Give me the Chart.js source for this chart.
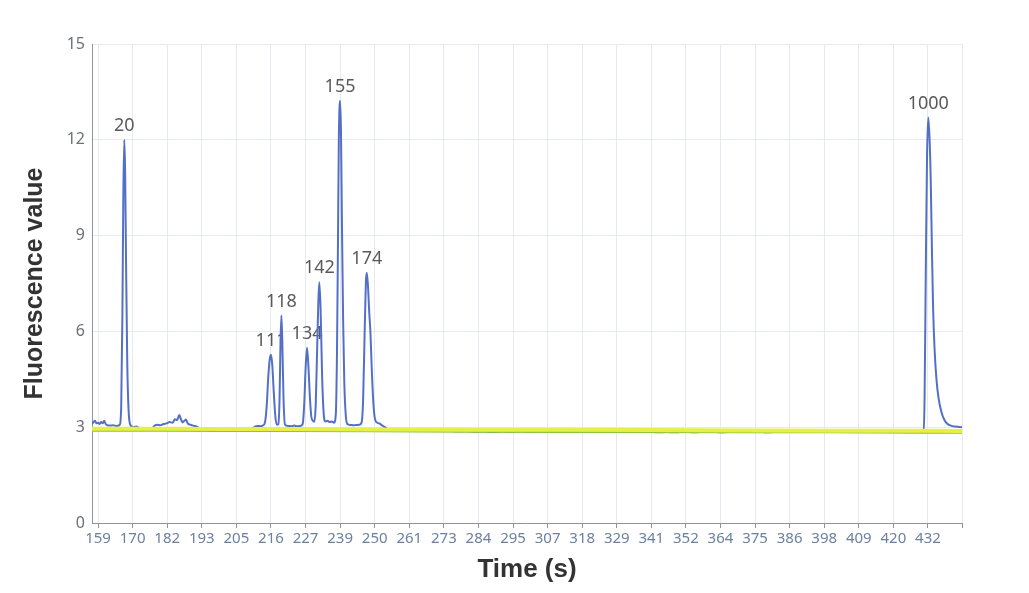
<!DOCTYPE html>
<html>
<head>
<meta charset="utf-8">
<script src="https://cdn.jsdelivr.net/npm/chart.js@4/dist/chart.umd.min.js"></script>
<style>
  html, body { margin: 0; padding: 0; background: #ffffff; }
  canvas { display: block; }
</style>
</head>
<body>
<canvas id="c" width="1029" height="593"></canvas>
<script>
// ---- data ----
const xMin = 157;
const xMax = 443.2;
const tickLabels = [159, 170, 182, 193, 205, 216, 227, 239, 250, 261, 273, 284, 295, 307, 318, 329, 341, 352, 364, 375, 386, 398, 409, 420, 432];
const yTicks = [0, 3, 6, 9, 12, 15];

const blueTime = [
  157.0, 157.5, 158.0, 158.5, 159.0, 159.5, 160.0, 160.5, 161.0, 161.5, 162.0, 163.0, 164.0, 165.0, 166.0,
  166.6, 167.0, 167.3, 167.6, 167.9, 168.2, 168.6, 169.0, 169.5,
  170.5, 171.5, 172.5, 173.5, 174.5, 175.5, 176.5, 177.5, 178.5, 179.5, 180.5, 181.5, 182.5, 183.5,
  184.3, 185.0, 185.7, 186.3, 186.8, 187.4, 187.9, 188.5, 189.3, 190.3, 191.5, 192.5,
  194, 196, 198, 200, 202, 204, 206, 208, 209.5, 210.6, 211.5, 212.5, 213.3,
  213.9, 214.5, 215.0, 215.5, 215.9, 216.3, 216.8, 217.3, 217.8, 218.3,
  218.7, 219.0, 219.3, 219.6, 220.0, 220.5, 221.5, 222.5, 223.5, 224.5, 225.5, 226.3,
  226.8, 227.3, 227.75, 228.2, 228.7, 229.2, 229.7, 230.1,
  230.6, 231.1, 231.5, 231.8, 232.2, 232.7, 233.2, 233.8, 234.5, 235.2, 235.9, 236.6,
  237.2, 237.6, 237.9, 238.2, 238.6, 238.9, 239.2, 239.6, 240.0, 240.5, 241.0, 242.0, 243.0, 244.0, 245.0,
  245.7, 246.2, 246.7, 247.1, 247.4, 247.8, 248.2, 248.6, 249.0, 249.5, 250.0, 250.7, 251.5, 252.5, 253.4, 254.5,
  256, 259, 262, 265, 268, 271, 274, 277, 280, 283, 286, 289, 292, 295, 298, 301, 304, 307, 310, 313,
  316, 319, 322, 325, 328, 331, 334, 337, 340, 343, 346, 349, 352, 355, 358, 361, 364, 367, 370, 373,
  376, 379, 382, 385, 388, 391, 394, 397, 400, 403, 406, 409, 412, 415, 418, 421, 424, 427, 430, 430.6,
  430.9, 431.3, 431.7, 432.1, 432.5, 432.9, 433.3, 433.7, 434.2, 434.8, 435.5, 436.5, 437.3, 438.1, 439.5, 441.0, 443.2
];
const blueValue = [
  3.10, 3.16, 3.20, 3.12, 3.14, 3.10, 3.16, 3.12, 3.20, 3.10, 3.06, 3.05, 3.06, 3.04, 3.06,
  3.60, 6.50, 10.20, 12.00, 11.00, 8.20, 5.00, 3.60, 3.10,
  3.00, 3.02, 2.98, 2.95, 2.93, 2.95, 2.94, 3.04, 3.08, 3.06, 3.10, 3.12, 3.16, 3.14,
  3.25, 3.22, 3.38, 3.24, 3.15, 3.20, 3.24, 3.12, 3.08, 3.05, 3.02, 2.96,
  2.92, 2.90, 2.88, 2.92, 2.89, 2.88, 2.91, 2.92, 2.95, 3.02, 3.04, 3.03, 3.06,
  3.15, 3.70, 4.60, 5.15, 5.27, 4.95, 4.10, 3.35, 3.08, 3.10,
  3.90, 5.60, 6.50, 5.70, 3.90, 3.08, 3.04, 3.03, 3.05, 3.03, 3.04, 3.10,
  3.70, 4.90, 5.49, 4.90, 3.90, 3.30, 3.20, 3.17,
  3.70, 5.60, 7.05, 7.54, 6.70, 4.60, 3.45, 3.18, 3.20, 3.16, 3.18, 3.14,
  3.40, 5.40, 8.60, 12.00, 13.22, 12.30, 9.60, 6.40, 4.40, 3.35, 3.10, 3.07, 3.06, 3.07, 3.08,
  3.15, 3.90, 6.00, 7.55, 7.84, 7.40, 6.60, 5.95, 4.90, 3.85, 3.30, 3.15, 3.12, 3.05, 3.00, 2.92,
  2.92, 2.90, 2.91, 2.89, 2.90, 2.88, 2.89, 2.87, 2.88, 2.86, 2.87, 2.85, 2.87, 2.86, 2.88, 2.86, 2.87, 2.85, 2.88, 2.87,
  2.89, 2.88, 2.87, 2.88, 2.86, 2.85, 2.87, 2.85, 2.86, 2.84, 2.85, 2.84, 2.86, 2.84, 2.85, 2.86, 2.84, 2.85, 2.86, 2.85,
  2.86, 2.84, 2.85, 2.86, 2.85, 2.87, 2.86, 2.85, 2.86, 2.87, 2.85, 2.86, 2.87, 2.86, 2.87, 2.86, 2.87, 2.88, 2.89, 2.90,
  4.00, 8.00, 11.50, 12.70, 12.10, 10.80, 8.60, 6.70, 5.40, 4.50, 3.90, 3.45, 3.25, 3.13, 3.05, 3.02, 3.00
];

const yellowTime  = [157, 180, 200, 220, 250, 280, 310, 340, 370, 400, 430, 443.2];
const yellowValue = [2.95, 2.95, 2.94, 2.94, 2.93, 2.92, 2.92, 2.91, 2.90, 2.89, 2.89, 2.88];
const greenTime   = [157, 180, 200, 220, 250, 280, 310, 340, 370, 400, 430, 443.2];
const greenValue  = [2.89, 2.89, 2.88, 2.88, 2.87, 2.86, 2.85, 2.85, 2.84, 2.84, 2.83, 2.83];

const peakTimes = [167.6, 215.9, 219.3, 227.75, 231.8, 238.6, 247.4, 432.1];
const peakNames = ['20', '111', '118', '134', '142', '155', '174', '1000'];

// ---- build ----
const toPts = (xs, ys) => xs.map((x, i) => ({ x: x, y: ys[i] }));
// tick labels sit evenly spaced along the time axis, first to last label
const tickStep = (tickLabels[tickLabels.length - 1] - tickLabels[0]) / (tickLabels.length - 1);
const tickPos = tickLabels.map((_, i) => tickLabels[0] + i * tickStep);

const peakLabelPlugin = {
  id: 'peakLabels',
  beforeDatasetsDraw(chart) {
    const ctx = chart.ctx;
    const xs = chart.scales.x, ys = chart.scales.y;
    ctx.save();
    ctx.font = '18px "Noto Sans", sans-serif';
    ctx.fillStyle = '#5a5a5a';
    ctx.textAlign = 'center';
    ctx.textBaseline = 'bottom';
    peakTimes.forEach((t, i) => {
      const idx = blueTime.indexOf(t);
      const v = blueValue[idx];
      ctx.fillText(peakNames[i], xs.getPixelForValue(t), ys.getPixelForValue(v) - 5);
    });
    ctx.restore();
  }
};

const axisColor = '#8e939c';
const gridColor = '#e6e9f0';

new Chart(document.getElementById('c'), {
  type: 'line',
  data: {
    datasets: [
      { data: toPts(yellowTime, yellowValue), borderColor: '#e6ef45', borderWidth: 4, pointRadius: 0, order: 1 },
      { data: toPts(greenTime, greenValue), borderColor: '#8cc43c', borderWidth: 2, pointRadius: 0, order: 2 },
      { data: toPts(blueTime, blueValue), borderColor: '#5470c6', borderWidth: 2, pointRadius: 0, order: 3, cubicInterpolationMode: 'monotone' }
    ]
  },
  options: {
    responsive: false,
    animation: false,
    devicePixelRatio: 1,
    layout: { padding: { left: 0, right: 67, top: 44, bottom: 0 } },
    plugins: { legend: { display: false }, tooltip: { enabled: false } },
    scales: {
      x: {
        type: 'linear',
        min: xMin,
        max: xMax,
        afterBuildTicks: (s) => { s.ticks = tickPos.map(v => ({ value: v })).concat([{ value: xMax }]); },
        afterFit: (s) => { s.height = 70; },
        ticks: {
          autoSkip: false, maxRotation: 0, minRotation: 0,
          color: '#6c80a0', padding: 2,
          font: { family: 'Noto Sans', size: 15 },
          callback: (v, i) => i < tickLabels.length ? String(tickLabels[i]) : ''
        },
        grid: { color: gridColor, tickColor: axisColor, tickLength: 5, drawTicks: true },
        border: { color: axisColor, width: 1 },
        title: {
          display: true, text: 'Time (s)', color: '#333333',
          font: { family: 'Liberation Sans', size: 26, weight: 'bold' },
          padding: { top: 0, bottom: 8 }
        }
      },
      y: {
        min: 0, max: 15,
        afterBuildTicks: (s) => { s.ticks = yTicks.map(v => ({ value: v })); },
        afterFit: (s) => { s.width = 92; },
        ticks: { color: '#6e7079', padding: 7, font: { family: 'Noto Sans', size: 16 } },
        grid: { color: gridColor, drawTicks: false },
        border: { color: axisColor, width: 1 },
        title: {
          display: true, text: 'Fluorescence value', color: '#333333',
          font: { family: 'Liberation Sans', size: 25, weight: 'bold' },
          padding: { top: 20, bottom: 0 }
        }
      }
    }
  },
  plugins: [peakLabelPlugin]
});
</script>
</body>
</html>
